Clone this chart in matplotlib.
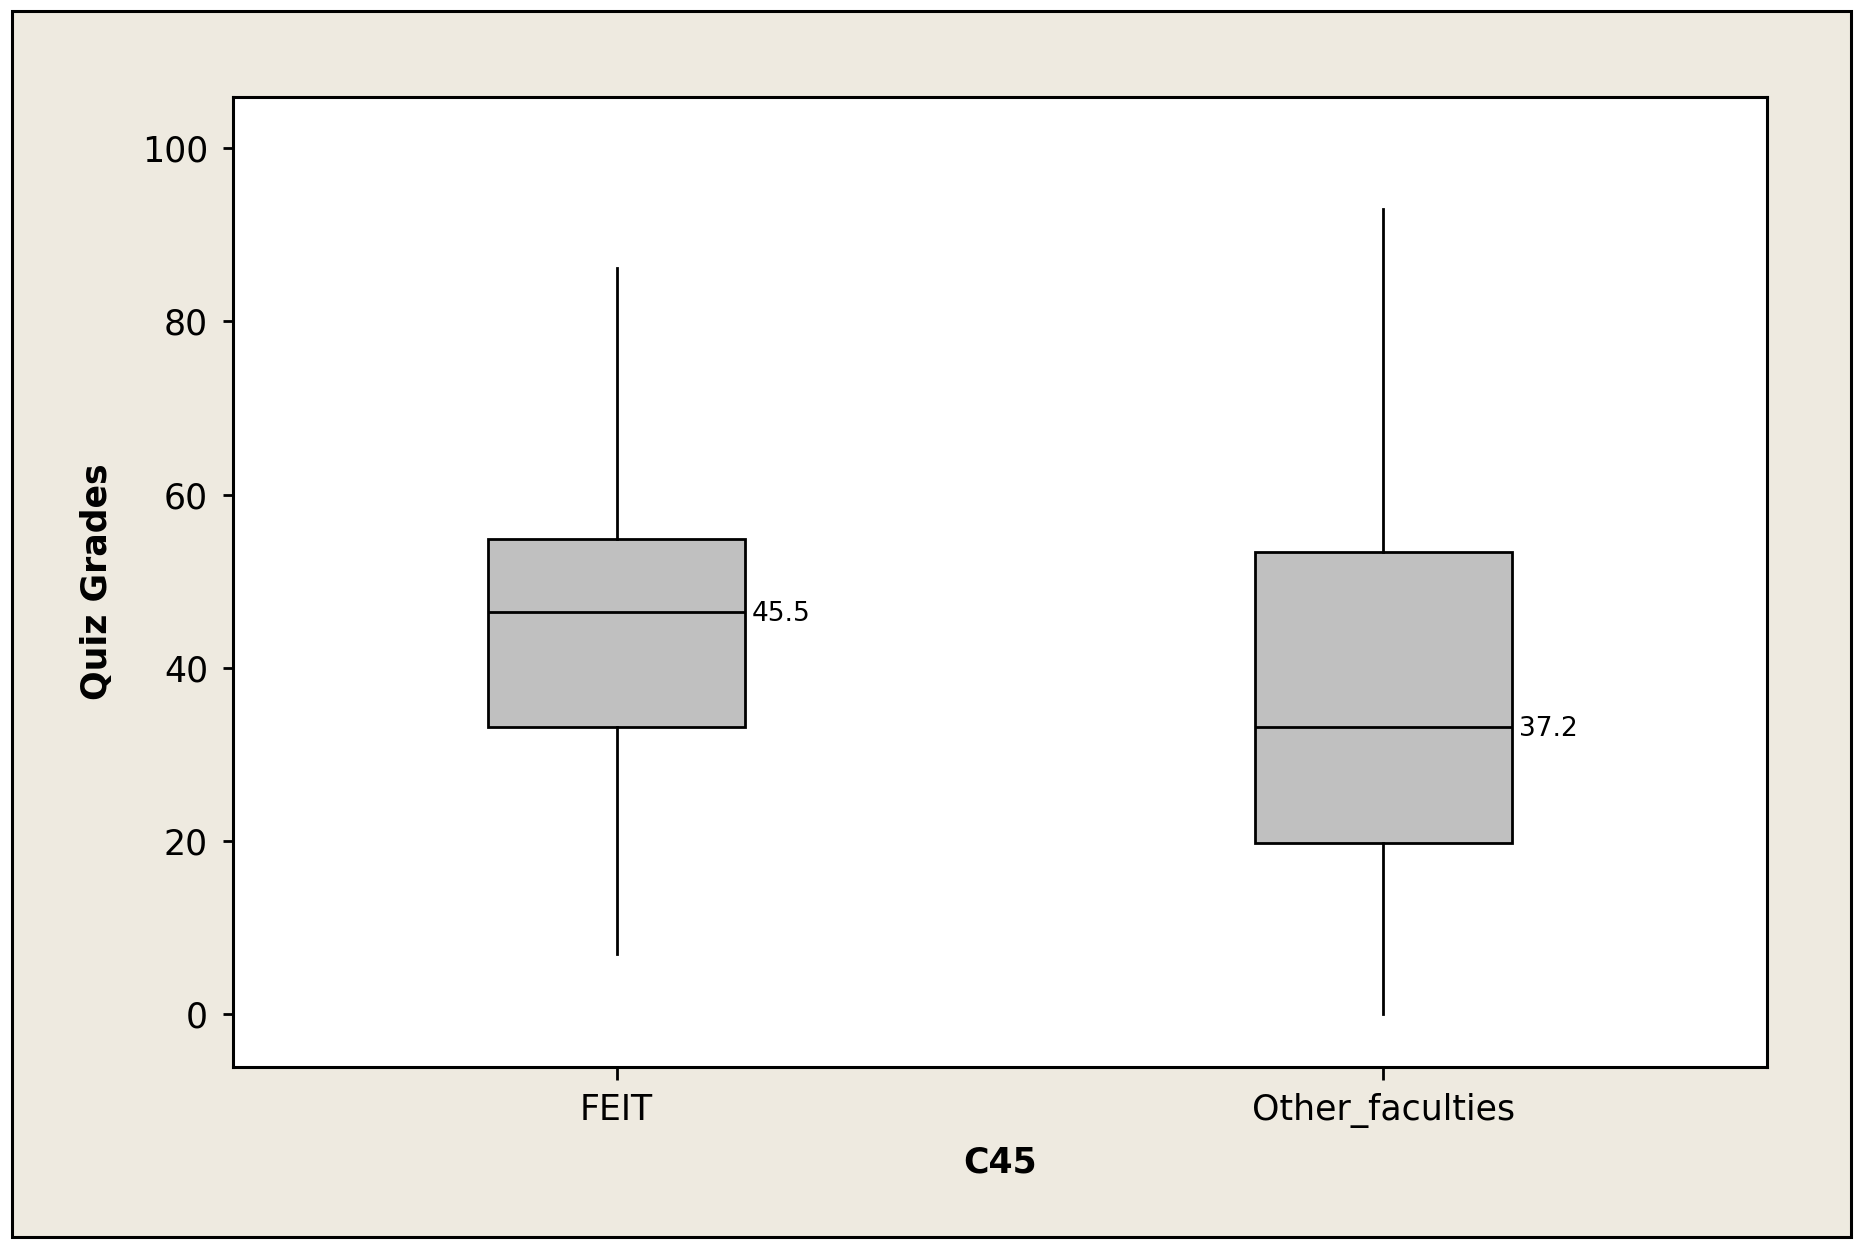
import matplotlib
matplotlib.use('Agg')
import matplotlib.pyplot as plt
from matplotlib.patches import Rectangle

# values
groups = ['FEIT', 'Other_faculties']
whisker_low = [6.9, 0.0]
q1 = [33.2, 19.8]
median = [46.4, 33.2]
q3 = [54.9, 53.4]
whisker_high = [86.2, 93.0]
median_labels = ['45.5', '37.2']
y_ticks = [0, 20, 40, 60, 80, 100]

plt.rcParams['font.family'] = 'DejaVu Sans'

fig = plt.figure(figsize=(18.69, 12.52), dpi=100, facecolor='white')
frame = Rectangle((0.0064, 0.012), 0.984, 0.9792, transform=fig.transFigure,
                  facecolor='#eeeae0', edgecolor='black', linewidth=2.2, zorder=-10)
fig.add_artist(frame)

ax = fig.add_axes([0.1247, 0.1478, 0.8207, 0.7747])
ax.set_facecolor('white')

stats = []
for i, name in enumerate(groups):
    stats.append({'label': name, 'whislo': whisker_low[i], 'q1': q1[i], 'med': median[i],
                  'q3': q3[i], 'whishi': whisker_high[i], 'fliers': []})

positions = list(range(1, len(groups) + 1))
ax.bxp(stats, positions=positions, widths=0.335, patch_artist=True, showcaps=False,
       boxprops=dict(facecolor='#c0c0c0', edgecolor='black', linewidth=2.0),
       medianprops=dict(color='black', linewidth=2.0),
       whiskerprops=dict(color='black', linewidth=2.0))

for pos, med, lab in zip(positions, median, median_labels):
    ax.annotate(lab, xy=(pos + 0.335 / 2, med), xytext=(5, -1.5), textcoords='offset points',
                ha='left', va='center', fontsize=19)

ax.set_xlim(0.5, 2.5)
ax.set_ylim(-6.1, 105.9)
ax.set_yticks(y_ticks)
ax.set_xticks(positions)
ax.set_xticklabels(groups)
ax.tick_params(axis='both', labelsize=25, width=2, direction='out', colors='black')
ax.tick_params(axis='y', length=7, pad=11)
ax.tick_params(axis='x', length=9, pad=10)
for sp in ax.spines.values():
    sp.set_linewidth(2.2)

ax.set_xlabel('C45', fontsize=25, fontweight='bold', labelpad=12)
ax.set_ylabel('Quiz Grades', fontsize=25, fontweight='bold', labelpad=20)

fig.savefig('out.png', dpi=100, facecolor=fig.get_facecolor())
